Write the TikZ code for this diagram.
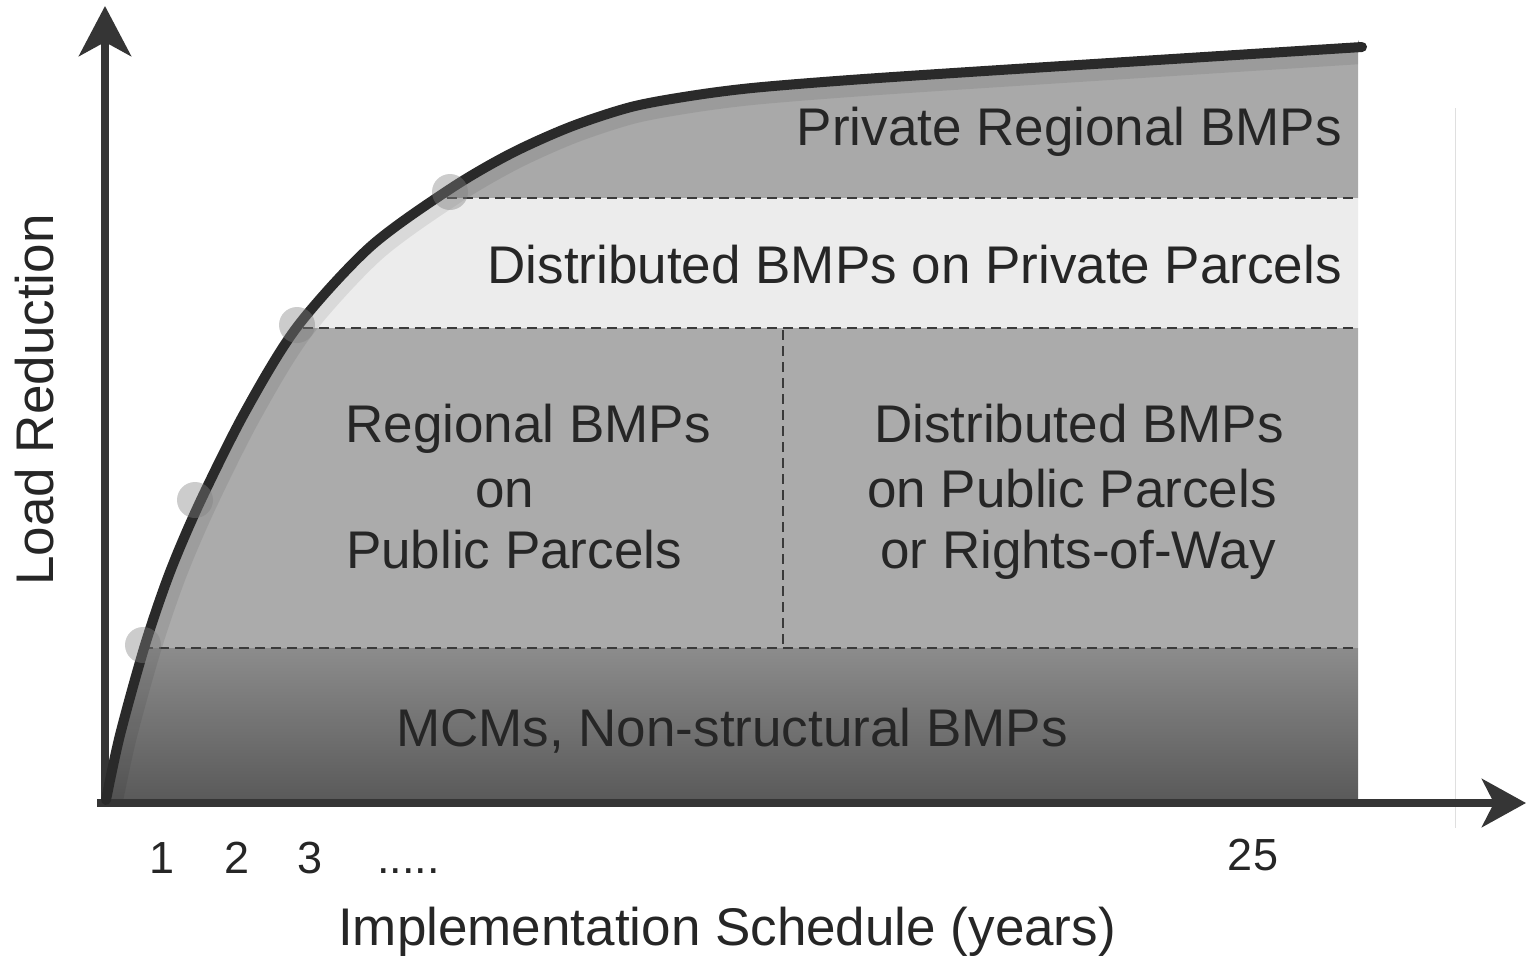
\documentclass[tikz,border=0pt]{standalone}
\usepackage{fontspec}
\setmainfont{Liberation Sans}
\usetikzlibrary{arrows.meta}
\definecolor{axisc}{HTML}{353535}
\definecolor{curvec}{HTML}{2A2A2A}
\definecolor{bandtop}{HTML}{A9A9A9}
\definecolor{bandwhite}{HTML}{ECECEC}
\definecolor{bandmid}{HTML}{ABABAB}
\definecolor{bandlowtop}{HTML}{8C8C8C}
\definecolor{bandlowbot}{HTML}{585858}
\definecolor{dashc}{HTML}{3A3A3A}
\tikzset{
  lbl/.style={inner sep=0pt, font=\fontsize{53}{60}\selectfont, text=black!85},
  ticklbl/.style={inner sep=0pt, font=\fontsize{45}{50}\selectfont, text=black!85},
  axisline/.style={draw=axisc, line width=8pt},
  sepline/.style={draw=dashc, line width=2.5pt, dash pattern=on 10pt off 6pt},
  dotmark/.style={circle, fill=gray, opacity=0.4, minimum size=36pt, inner sep=0pt},
  curveline/.style={draw=curvec, line width=10pt, line cap=round}
}
\def\curvepts{(106,800) (120,735) (145,645) (170,572) (200,502) (245,412) (297,327) (370,247) (450,189) (510,154) (570,127) (631,107) (690,96) (752,88) (850,80) (1000,70) (1362,47)}
\begin{document}
\begin{tikzpicture}[x=1pt,y=-1pt]
\useasboundingbox (0,0) rectangle (1527,956);
\fill[white] (0,0) rectangle (1527,956);
% faint scan line
\draw[gray!25, line width=1pt] (1455,108) -- (1455,828);
% filled bands under the curve
\begin{scope}
\clip (105,805) -- plot[smooth] coordinates {(106,800) (120,735) (145,645) (170,572) (200,502) (245,412) (297,327) (370,247) (450,189) (510,154) (570,127) (631,107) (690,96) (752,88) (850,80) (1000,70) (1362,47)} -- (1358,40) -- (1358,805) -- cycle;
\fill[bandtop] (95,30) rectangle (1360,198);
\fill[bandwhite] (95,198) rectangle (1360,328);
\fill[bandmid] (95,328) rectangle (1360,648);
\shade[top color=bandlowtop, bottom color=bandlowbot] (95,648) rectangle (1360,805);
% inner shadow along curve
\draw[black, opacity=0.08, line width=34pt] plot[smooth] coordinates {(106,800) (120,735) (145,645) (170,572) (200,502) (245,412) (297,327) (370,247) (450,189) (510,154) (570,127) (631,107) (690,96) (752,88) (850,80) (1000,70) (1362,47)};
% separators
\draw[sepline] (95,198) -- (1358,198);
\draw[sepline] (95,328) -- (1358,328);
\draw[sepline] (95,648) -- (1358,648);
\draw[sepline] (783,330) -- (783,648);
\end{scope}
% axes
\coordinate (origin) at (105,803);
\coordinate (ytop) at (105,6);
\coordinate (xstart) at (97,803);
\coordinate (xend) at (1526,803);
\draw[axisline, -{Stealth[length=50pt, width=52pt, inset=14pt]}] (origin) -- (ytop);
\draw[axisline, -{Stealth[length=44pt, width=48pt, inset=12pt]}] (xstart) -- (xend);
% curve
\draw[curveline] plot[smooth] coordinates {(106,800) (120,735) (145,645) (170,572) (200,502) (245,412) (297,327) (370,247) (450,189) (510,154) (570,127) (631,107) (690,96) (752,88) (850,80) (1000,70) (1362,47)};
% milestone dots
\node[dotmark] (d1) at (143,645) {};
\node[dotmark] (d2) at (195,500) {};
\node[dotmark] (d3) at (297,325) {};
\node[dotmark] (d4) at (450,192) {};
% labels
\node[lbl, anchor=base east] (privreg) at (1342,145) {Private Regional BMPs};
\node[lbl, anchor=base east] (distpriv) at (1342,283) {Distributed BMPs on Private Parcels};
\node[lbl, anchor=base] (reg1) at (528,442) {Regional BMPs};
\node[lbl, anchor=base] (reg2) at (505,507) {on};
\node[lbl, anchor=base] (reg3) at (514,568) {Public Parcels};
\node[lbl, anchor=base] (dp1) at (1079,442) {Distributed BMPs};
\node[lbl, anchor=base] (dp2) at (1072,507) {on Public Parcels};
\node[lbl, anchor=base] (dp3) at (1078,568) {or Rights-of-Way};
\node[lbl, anchor=base west] (mcm) at (396,746) {MCMs, Non-structural BMPs};
\node[lbl, rotate=90, anchor=base] (ylab) at (53,400) {Load Reduction};
\node[ticklbl, anchor=base] (t1) at (162,873) {1};
\node[ticklbl, anchor=base] (t2) at (237,873) {2};
\node[ticklbl, anchor=base] (t3) at (310,873) {3};
\node[ticklbl, anchor=base west] (tdots) at (377,873) {.....};
\node[ticklbl, anchor=base] (t25) at (1253,870) {25};
\node[lbl, anchor=base west] (xlab) at (338,945) {Implementation Schedule (years)};
\end{tikzpicture}
\end{document}
